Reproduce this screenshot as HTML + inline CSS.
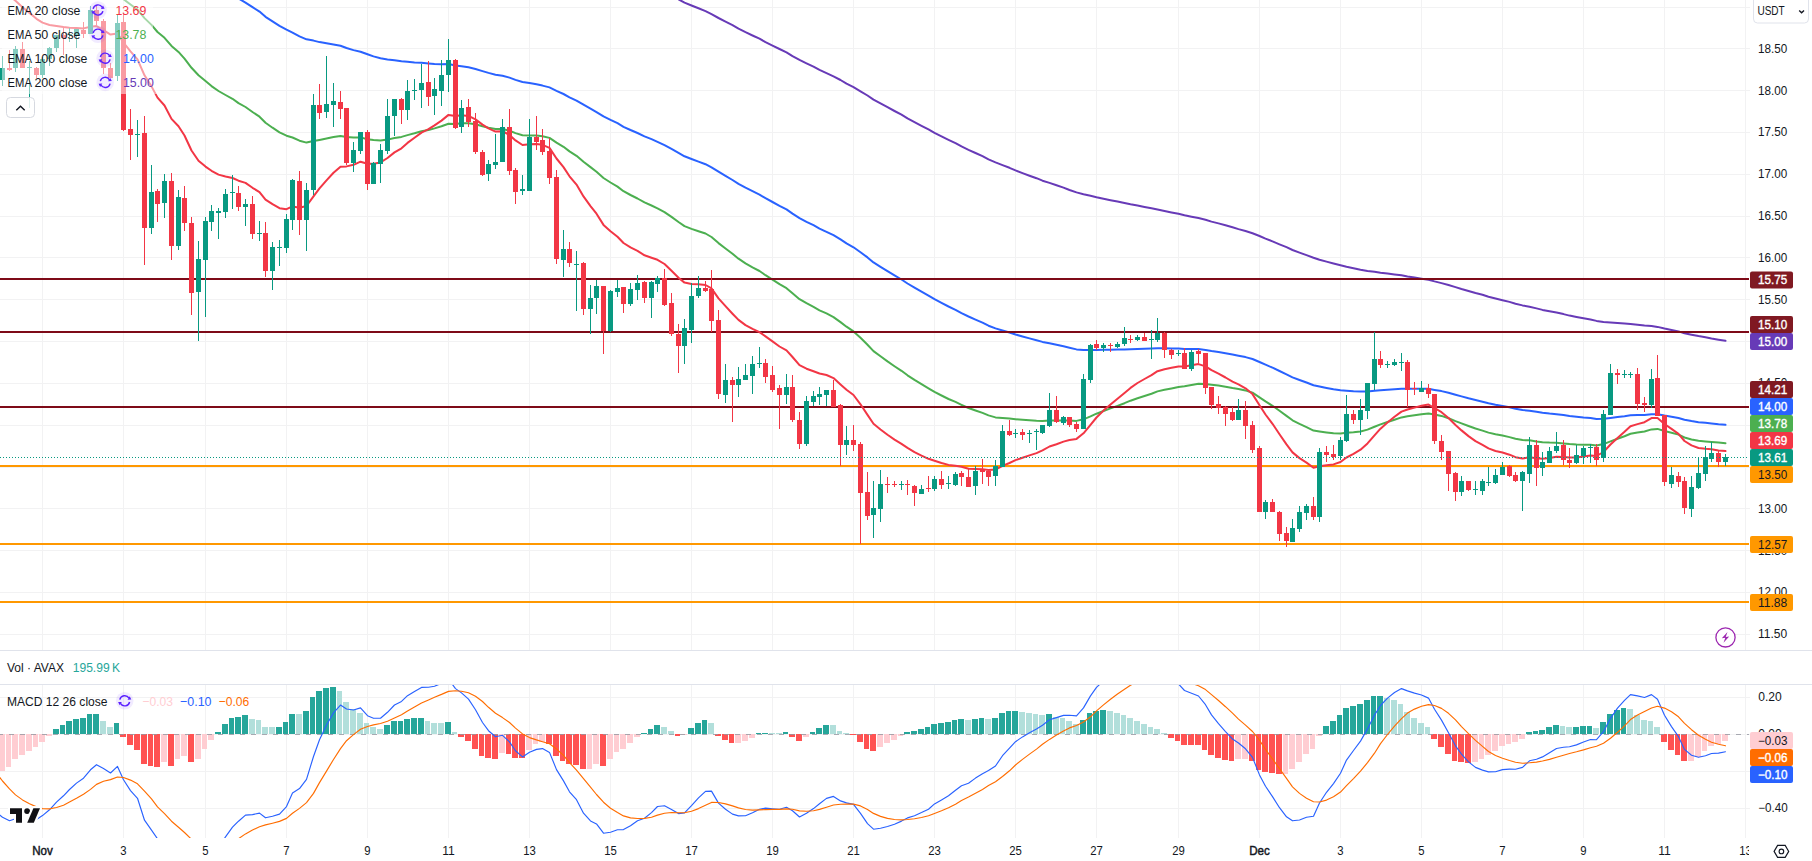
<!DOCTYPE html><html><head><meta charset="utf-8"><title>AVAX/USDT chart</title><style>html,body{margin:0;padding:0;background:#fff;overflow:hidden}svg{display:block}</style></head><body><svg width="1812" height="861" viewBox="0 0 1812 861" font-family='"Liberation Sans", Arial, sans-serif'><defs><clipPath id="cm"><rect x="0" y="0" width="1749" height="650"/></clipPath><clipPath id="cd"><rect x="0" y="685" width="1749" height="153"/></clipPath><clipPath id="ct"><rect x="0" y="838" width="1749" height="23"/></clipPath><clipPath id="ca"><rect x="1749" y="0" width="63" height="650"/></clipPath><clipPath id="cb"><rect x="1749" y="685" width="63" height="153"/></clipPath></defs><rect width="1812" height="861" fill="#fff"/><path d="M42 -1v651M42 684v153M123 -1v651M123 684v153M205 -1v651M205 684v153M286 -1v651M286 684v153M367 -1v651M367 684v153M448 -1v651M448 684v153M529 -1v651M529 684v153M610 -1v651M610 684v153M691 -1v651M691 684v153M772 -1v651M772 684v153M853 -1v651M853 684v153M934 -1v651M934 684v153M1015 -1v651M1015 684v153M1096 -1v651M1096 684v153M1178 -1v651M1178 684v153M1259 -1v651M1259 684v153M1340 -1v651M1340 684v153M1421 -1v651M1421 684v153M1502 -1v651M1502 684v153M1583 -1v651M1583 684v153M1664 -1v651M1664 684v153M1745 -1v651M1745 684v153M-1 7h1750M-1 48h1750M-1 90h1750M-1 132h1750M-1 174h1750M-1 216h1750M-1 257h1750M-1 299h1750M-1 341h1750M-1 383h1750M-1 425h1750M-1 467h1750M-1 508h1750M-1 550h1750M-1 592h1750M-1 634h1750M-1 697h1750M-1 734h1750M-1 771h1750M-1 808h1750" transform="translate(0.5,0.5)" stroke="#f2f2f3" stroke-width="1" fill="none" shape-rendering="crispEdges"/><polyline points="-4.5,-61.6 2.5,-56.5 9.5,-51.6 15.5,-47.6 22.5,-43.1 29.5,-38.8 36.5,-34.3 42.5,-30.7 49.5,-27.6 56.5,-25.1 63.5,-22.7 69.5,-20.5 76.5,-18.5 83.5,-16.5 90.5,-15.4 96.5,-14.0 103.5,-10.8 110.5,-7.3 117.5,-6.1 123.5,-0.8 130.5,4.5 137.5,9.6 144.5,18.1 151.5,24.9 157.5,32.0 164.5,37.8 171.5,45.9 178.5,51.9 184.5,58.6 191.5,67.8 198.5,75.3 205.5,81.0 211.5,86.1 218.5,91.0 225.5,95.0 232.5,98.8 238.5,103.1 245.5,107.0 252.5,112.0 259.5,116.7 265.5,122.8 272.5,127.7 279.5,132.3 286.5,135.7 292.5,137.5 299.5,140.7 306.5,142.6 313.5,141.1 319.5,140.0 326.5,138.6 333.5,137.1 340.5,136.0 346.5,137.1 353.5,137.6 360.5,137.4 367.5,139.2 373.5,140.1 380.5,140.5 387.5,139.6 394.5,138.0 401.5,136.9 407.5,135.1 414.5,133.3 421.5,131.3 428.5,130.0 434.5,128.4 441.5,126.3 448.5,123.7 455.5,123.9 461.5,123.2 468.5,123.2 475.5,124.3 482.5,126.3 488.5,127.8 495.5,129.1 502.5,129.0 509.5,130.7 515.5,133.1 522.5,135.3 529.5,135.4 536.5,135.6 542.5,136.2 549.5,137.9 556.5,142.6 563.5,146.8 569.5,151.4 576.5,155.8 583.5,161.8 590.5,167.1 596.5,171.8 603.5,178.0 610.5,182.5 617.5,186.6 623.5,191.2 630.5,195.0 637.5,198.5 644.5,202.4 651.5,205.5 657.5,208.4 664.5,212.1 671.5,216.9 678.5,222.0 684.5,226.1 691.5,228.9 698.5,231.2 705.5,233.5 711.5,237.0 718.5,243.1 725.5,248.5 732.5,253.8 738.5,258.7 745.5,263.3 752.5,267.3 759.5,271.0 765.5,275.2 772.5,279.6 779.5,284.2 786.5,288.2 792.5,293.3 799.5,299.2 806.5,303.2 813.5,306.9 819.5,310.3 826.5,313.4 833.5,317.1 840.5,322.1 846.5,326.7 853.5,331.4 860.5,337.7 867.5,344.7 873.5,351.1 880.5,356.3 887.5,361.4 894.5,366.2 901.5,370.8 907.5,375.3 914.5,379.9 921.5,384.2 928.5,388.3 934.5,391.9 941.5,395.5 948.5,399.0 955.5,401.9 961.5,404.8 968.5,408.0 975.5,410.5 982.5,412.9 988.5,415.4 995.5,417.4 1002.5,418.0 1009.5,418.6 1015.5,419.2 1022.5,419.8 1029.5,420.3 1036.5,420.7 1042.5,420.9 1049.5,420.5 1056.5,420.5 1063.5,420.4 1069.5,420.6 1076.5,420.9 1083.5,419.3 1090.5,416.4 1096.5,413.7 1103.5,411.0 1110.5,408.4 1117.5,405.9 1124.5,403.2 1130.5,400.7 1137.5,398.2 1144.5,396.0 1151.5,393.8 1157.5,391.4 1164.5,389.8 1171.5,388.4 1178.5,387.0 1184.5,386.3 1191.5,385.0 1198.5,383.7 1205.5,383.9 1211.5,384.7 1218.5,385.6 1225.5,386.7 1232.5,388.0 1238.5,388.9 1245.5,390.4 1252.5,392.7 1259.5,397.4 1265.5,401.4 1272.5,405.8 1279.5,410.8 1286.5,415.9 1292.5,420.3 1299.5,423.9 1306.5,427.1 1313.5,430.6 1319.5,431.5 1326.5,432.4 1333.5,433.3 1340.5,433.6 1346.5,432.8 1353.5,432.3 1360.5,431.5 1367.5,429.6 1374.5,426.8 1380.5,424.4 1387.5,422.0 1394.5,419.7 1401.5,417.4 1407.5,416.3 1414.5,415.3 1421.5,414.2 1428.5,413.4 1434.5,414.5 1441.5,415.9 1448.5,418.2 1455.5,421.1 1461.5,423.4 1468.5,426.0 1475.5,428.5 1482.5,430.6 1488.5,432.6 1495.5,434.3 1502.5,435.5 1509.5,437.1 1515.5,438.8 1522.5,440.1 1529.5,440.3 1536.5,441.4 1542.5,442.2 1549.5,442.6 1556.5,442.7 1563.5,443.4 1569.5,444.1 1576.5,444.6 1583.5,444.7 1590.5,444.8 1596.5,445.4 1603.5,444.1 1610.5,441.4 1617.5,438.8 1624.5,436.2 1630.5,433.8 1637.5,432.6 1644.5,431.5 1651.5,429.4 1657.5,428.9 1664.5,431.0 1671.5,432.7 1678.5,434.6 1684.5,437.5 1691.5,439.5 1698.5,440.8 1705.5,441.4 1711.5,441.9 1718.5,442.6 1725.5,443.2" fill="none" stroke="#4caf50" stroke-width="2" stroke-linejoin="round" stroke-linecap="round" clip-path="url(#cm)"/><polyline points="-4.5,-150.9 2.5,-146.6 9.5,-142.3 15.5,-138.5 22.5,-134.4 29.5,-130.4 36.5,-126.4 42.5,-122.7 49.5,-119.3 56.5,-116.3 63.5,-113.2 69.5,-110.3 76.5,-107.6 83.5,-104.8 90.5,-102.5 96.5,-100.0 103.5,-96.7 110.5,-93.3 117.5,-91.0 123.5,-86.6 130.5,-82.2 137.5,-77.9 144.5,-71.9 151.5,-66.7 157.5,-61.3 164.5,-56.5 171.5,-50.5 178.5,-45.6 184.5,-40.3 191.5,-33.7 198.5,-27.9 205.5,-23.0 211.5,-18.3 218.5,-13.8 225.5,-9.7 232.5,-5.7 238.5,-1.5 245.5,2.6 252.5,7.2 259.5,11.6 265.5,16.8 272.5,21.3 279.5,25.8 286.5,29.6 292.5,32.6 299.5,36.3 306.5,39.3 313.5,40.6 319.5,42.1 326.5,43.3 333.5,44.4 340.5,45.7 346.5,48.0 353.5,50.1 360.5,51.7 367.5,54.3 373.5,56.4 380.5,58.3 387.5,59.4 394.5,60.2 401.5,61.2 407.5,61.8 414.5,62.4 421.5,62.8 428.5,63.4 434.5,64.0 441.5,64.2 448.5,64.1 455.5,65.4 461.5,66.2 468.5,67.3 475.5,69.0 482.5,71.1 488.5,72.9 495.5,74.7 502.5,75.7 509.5,77.6 515.5,79.9 522.5,82.0 529.5,83.1 536.5,84.3 542.5,85.6 549.5,87.4 556.5,90.8 563.5,94.0 569.5,97.3 576.5,100.6 583.5,104.7 590.5,108.6 596.5,112.1 603.5,116.4 610.5,119.9 617.5,123.2 623.5,126.8 630.5,130.0 637.5,133.0 644.5,136.3 651.5,139.2 657.5,141.9 664.5,145.2 671.5,148.9 678.5,152.8 684.5,156.3 691.5,159.0 698.5,161.6 705.5,164.2 711.5,167.3 718.5,171.7 725.5,175.9 732.5,180.0 738.5,183.9 745.5,187.7 752.5,191.2 759.5,194.6 765.5,198.2 772.5,202.0 779.5,205.8 786.5,209.4 792.5,213.6 799.5,218.1 806.5,221.8 813.5,225.2 819.5,228.6 826.5,231.8 833.5,235.2 840.5,239.4 846.5,243.4 853.5,247.3 860.5,252.2 867.5,257.4 873.5,262.4 880.5,266.8 887.5,271.1 894.5,275.3 901.5,279.5 907.5,283.5 914.5,287.7 921.5,291.7 928.5,295.6 934.5,299.2 941.5,302.9 948.5,306.5 955.5,309.8 961.5,313.1 968.5,316.5 975.5,319.6 982.5,322.6 988.5,325.7 995.5,328.4 1002.5,330.5 1009.5,332.5 1015.5,334.5 1022.5,336.5 1029.5,338.4 1036.5,340.3 1042.5,341.9 1049.5,343.3 1056.5,344.8 1063.5,346.3 1069.5,347.8 1076.5,349.4 1083.5,350.0 1090.5,349.9 1096.5,349.9 1103.5,349.8 1110.5,349.7 1117.5,349.6 1124.5,349.4 1130.5,349.2 1137.5,348.9 1144.5,348.8 1151.5,348.6 1157.5,348.3 1164.5,348.3 1171.5,348.4 1178.5,348.5 1184.5,348.9 1191.5,349.0 1198.5,349.1 1205.5,349.9 1211.5,351.0 1218.5,352.1 1225.5,353.3 1232.5,354.6 1238.5,355.7 1245.5,357.1 1252.5,359.0 1259.5,362.0 1265.5,364.7 1272.5,367.7 1279.5,371.0 1286.5,374.3 1292.5,377.4 1299.5,380.0 1306.5,382.5 1313.5,385.2 1319.5,386.5 1326.5,387.9 1333.5,389.2 1340.5,390.2 1346.5,390.7 1353.5,391.3 1360.5,391.6 1367.5,391.5 1374.5,390.8 1380.5,390.3 1387.5,389.8 1394.5,389.3 1401.5,388.7 1407.5,388.7 1414.5,388.8 1421.5,388.7 1428.5,388.8 1434.5,389.9 1441.5,391.1 1448.5,392.7 1455.5,394.7 1461.5,396.4 1468.5,398.3 1475.5,400.0 1482.5,401.7 1488.5,403.2 1495.5,404.7 1502.5,405.9 1509.5,407.3 1515.5,408.7 1522.5,410.0 1529.5,410.7 1536.5,411.8 1542.5,412.8 1549.5,413.6 1556.5,414.2 1563.5,415.1 1569.5,416.1 1576.5,416.8 1583.5,417.5 1590.5,418.0 1596.5,418.9 1603.5,418.8 1610.5,417.9 1617.5,417.0 1624.5,416.2 1630.5,415.3 1637.5,415.1 1644.5,414.9 1651.5,414.2 1657.5,414.2 1664.5,415.6 1671.5,416.7 1678.5,418.0 1684.5,419.8 1691.5,421.1 1698.5,422.2 1705.5,422.8 1711.5,423.4 1718.5,424.2 1725.5,424.8" fill="none" stroke="#2962ff" stroke-width="2" stroke-linejoin="round" stroke-linecap="round" clip-path="url(#cm)"/><polyline points="-4.5,-322.9 2.5,-319.0 9.5,-315.1 15.5,-311.5 22.5,-307.7 29.5,-304.0 36.5,-300.2 42.5,-296.7 49.5,-293.2 56.5,-290.0 63.5,-286.7 69.5,-283.5 76.5,-280.4 83.5,-277.3 90.5,-274.4 96.5,-271.5 103.5,-268.1 110.5,-264.7 117.5,-261.8 123.5,-257.9 130.5,-254.0 137.5,-250.2 144.5,-245.4 151.5,-241.1 157.5,-236.6 164.5,-232.5 171.5,-227.7 178.5,-223.5 184.5,-219.0 191.5,-214.0 198.5,-209.2 205.5,-205.0 211.5,-200.8 218.5,-196.7 225.5,-192.8 232.5,-189.0 238.5,-185.1 245.5,-181.2 252.5,-177.1 259.5,-173.0 265.5,-168.6 272.5,-164.4 279.5,-160.3 286.5,-156.6 292.5,-153.2 299.5,-149.5 306.5,-146.1 313.5,-143.6 319.5,-141.1 326.5,-138.6 333.5,-136.3 340.5,-133.8 346.5,-130.9 353.5,-128.1 360.5,-125.5 367.5,-122.4 373.5,-119.6 380.5,-116.9 387.5,-114.6 394.5,-112.4 401.5,-110.2 407.5,-108.2 414.5,-106.3 421.5,-104.4 428.5,-102.4 434.5,-100.5 441.5,-98.7 448.5,-97.1 455.5,-94.9 461.5,-92.9 468.5,-90.7 475.5,-88.3 482.5,-85.7 488.5,-83.2 495.5,-80.8 502.5,-78.7 509.5,-76.2 515.5,-73.6 522.5,-70.9 529.5,-68.9 536.5,-66.8 542.5,-64.6 549.5,-62.2 556.5,-59.0 563.5,-55.9 569.5,-52.8 576.5,-49.6 583.5,-46.0 590.5,-42.6 596.5,-39.3 603.5,-35.7 610.5,-32.4 617.5,-29.2 623.5,-25.9 630.5,-22.8 637.5,-19.7 644.5,-16.6 651.5,-13.6 657.5,-10.7 664.5,-7.6 671.5,-4.2 678.5,-0.7 684.5,2.6 691.5,5.5 698.5,8.3 705.5,11.1 711.5,14.2 718.5,18.0 725.5,21.6 732.5,25.2 738.5,28.7 745.5,32.2 752.5,35.5 759.5,38.7 765.5,42.1 772.5,45.6 779.5,49.0 786.5,52.4 792.5,56.1 799.5,59.9 806.5,63.3 813.5,66.6 819.5,69.9 826.5,73.1 833.5,76.4 840.5,80.0 846.5,83.6 853.5,87.2 860.5,91.3 867.5,95.5 873.5,99.6 880.5,103.4 887.5,107.2 894.5,111.0 901.5,114.7 907.5,118.4 914.5,122.1 921.5,125.8 928.5,129.4 934.5,132.9 941.5,136.4 948.5,139.8 955.5,143.1 961.5,146.4 968.5,149.8 975.5,153.0 982.5,156.2 988.5,159.4 995.5,162.4 1002.5,165.1 1009.5,167.8 1015.5,170.4 1022.5,173.1 1029.5,175.7 1036.5,178.2 1042.5,180.7 1049.5,182.9 1056.5,185.3 1063.5,187.6 1069.5,190.0 1076.5,192.4 1083.5,194.2 1090.5,195.7 1096.5,197.2 1103.5,198.7 1110.5,200.2 1117.5,201.6 1124.5,203.0 1130.5,204.3 1137.5,205.6 1144.5,207.0 1151.5,208.3 1157.5,209.5 1164.5,210.9 1171.5,212.4 1178.5,213.8 1184.5,215.3 1191.5,216.7 1198.5,218.0 1205.5,219.7 1211.5,221.6 1218.5,223.4 1225.5,225.3 1232.5,227.3 1238.5,229.1 1245.5,231.0 1252.5,233.2 1259.5,236.0 1265.5,238.6 1272.5,241.4 1279.5,244.3 1286.5,247.2 1292.5,250.0 1299.5,252.6 1306.5,255.1 1313.5,257.7 1319.5,259.7 1326.5,261.6 1333.5,263.5 1340.5,265.3 1346.5,266.8 1353.5,268.3 1360.5,269.7 1367.5,270.9 1374.5,271.7 1380.5,272.7 1387.5,273.6 1394.5,274.4 1401.5,275.3 1407.5,276.5 1414.5,277.6 1421.5,278.7 1428.5,279.8 1434.5,281.4 1441.5,283.1 1448.5,285.0 1455.5,287.1 1461.5,289.0 1468.5,291.0 1475.5,293.0 1482.5,294.8 1488.5,296.7 1495.5,298.5 1502.5,300.2 1509.5,301.9 1515.5,303.7 1522.5,305.4 1529.5,306.8 1536.5,308.4 1542.5,309.9 1549.5,311.3 1556.5,312.6 1563.5,314.1 1569.5,315.6 1576.5,317.0 1583.5,318.3 1590.5,319.5 1596.5,320.9 1603.5,321.9 1610.5,322.4 1617.5,322.9 1624.5,323.4 1630.5,323.9 1637.5,324.7 1644.5,325.5 1651.5,326.0 1657.5,326.9 1664.5,328.5 1671.5,329.9 1678.5,331.4 1684.5,333.2 1691.5,334.7 1698.5,336.1 1705.5,337.3 1711.5,338.5 1718.5,339.7 1725.5,340.8" fill="none" stroke="#673ab7" stroke-width="2" stroke-linejoin="round" stroke-linecap="round" clip-path="url(#cm)"/><rect x="0" y="278" width="1749" height="2" fill="#7e0a18" shape-rendering="crispEdges"/><rect x="0" y="331" width="1749" height="2" fill="#7e0a18" shape-rendering="crispEdges"/><rect x="0" y="406" width="1749" height="2" fill="#7e0a18" shape-rendering="crispEdges"/><rect x="0" y="465" width="1749" height="2" fill="#ff9800" shape-rendering="crispEdges"/><rect x="0" y="543" width="1749" height="2" fill="#ff9800" shape-rendering="crispEdges"/><rect x="0" y="601" width="1749" height="2" fill="#ff9800" shape-rendering="crispEdges"/><polyline points="-4.5,-20.5 2.5,-12.1 9.5,-4.3 15.5,0.8 22.5,7.2 29.5,12.9 36.5,18.8 42.5,22.6 49.5,25.0 56.5,25.9 63.5,27.0 69.5,27.7 76.5,27.9 83.5,28.4 90.5,26.7 96.5,26.1 103.5,30.1 110.5,34.6 117.5,33.5 123.5,42.6 130.5,51.4 137.5,59.3 144.5,75.3 151.5,86.4 157.5,97.6 164.5,105.5 171.5,118.9 178.5,126.3 184.5,135.5 191.5,150.5 198.5,160.8 205.5,166.6 211.5,170.8 218.5,174.6 225.5,176.5 232.5,178.0 238.5,180.7 245.5,182.9 252.5,187.8 259.5,192.1 265.5,199.6 272.5,204.1 279.5,208.2 286.5,209.2 292.5,206.4 299.5,207.7 306.5,206.0 313.5,196.4 319.5,188.4 326.5,180.4 333.5,172.8 340.5,166.7 346.5,166.4 353.5,164.8 360.5,161.7 367.5,163.8 373.5,163.7 380.5,162.4 387.5,158.0 394.5,152.4 401.5,148.3 407.5,142.9 414.5,137.8 421.5,132.6 428.5,129.2 434.5,125.4 441.5,120.6 448.5,114.9 455.5,116.1 461.5,115.3 468.5,115.9 475.5,119.4 482.5,124.6 488.5,128.4 495.5,131.6 502.5,131.2 509.5,135.0 515.5,140.4 522.5,145.0 529.5,144.3 536.5,144.1 542.5,144.8 549.5,147.9 556.5,158.5 563.5,167.1 569.5,176.3 576.5,184.6 583.5,196.4 590.5,206.1 596.5,213.7 603.5,224.9 610.5,231.2 617.5,236.7 623.5,243.0 630.5,247.4 637.5,250.9 644.5,255.3 651.5,257.8 657.5,259.8 664.5,264.0 671.5,270.7 678.5,277.8 684.5,282.6 691.5,283.9 698.5,284.3 705.5,285.0 711.5,288.4 718.5,298.4 725.5,306.2 732.5,313.7 738.5,319.9 745.5,325.1 752.5,328.9 759.5,332.1 765.5,336.4 772.5,341.4 779.5,346.5 786.5,350.4 792.5,357.0 799.5,365.2 806.5,368.7 813.5,371.3 819.5,373.5 826.5,375.0 833.5,378.1 840.5,384.4 846.5,389.7 853.5,395.0 860.5,404.3 867.5,414.9 873.5,423.8 880.5,429.5 887.5,434.8 894.5,439.6 901.5,443.9 907.5,447.8 914.5,452.1 921.5,455.6 928.5,458.8 934.5,460.7 941.5,463.0 948.5,464.9 955.5,465.8 961.5,466.8 968.5,468.7 975.5,469.0 982.5,469.2 988.5,469.9 995.5,469.6 1002.5,465.9 1009.5,463.0 1015.5,460.1 1022.5,457.8 1029.5,455.4 1036.5,453.1 1042.5,450.4 1049.5,446.5 1056.5,444.2 1063.5,441.6 1069.5,440.0 1076.5,438.9 1083.5,433.3 1090.5,424.9 1096.5,417.5 1103.5,410.6 1110.5,404.5 1117.5,398.7 1124.5,392.9 1130.5,387.9 1137.5,383.0 1144.5,379.0 1151.5,375.2 1157.5,371.2 1164.5,369.2 1171.5,367.8 1178.5,366.4 1184.5,366.6 1191.5,365.2 1198.5,364.1 1205.5,366.4 1211.5,370.1 1218.5,373.7 1225.5,377.5 1232.5,381.6 1238.5,384.3 1245.5,388.3 1252.5,394.1 1259.5,405.3 1265.5,414.5 1272.5,423.8 1279.5,434.3 1286.5,444.4 1292.5,452.4 1299.5,458.1 1306.5,462.6 1313.5,467.8 1319.5,466.3 1326.5,465.2 1333.5,464.4 1340.5,462.0 1346.5,457.5 1353.5,453.9 1360.5,449.7 1367.5,443.4 1374.5,435.4 1380.5,428.7 1387.5,422.5 1394.5,416.8 1401.5,411.6 1407.5,409.5 1414.5,407.6 1421.5,405.7 1428.5,404.6 1434.5,408.0 1441.5,412.2 1448.5,418.0 1455.5,425.0 1461.5,430.4 1468.5,436.1 1475.5,441.1 1482.5,444.9 1488.5,448.4 1495.5,451.0 1502.5,452.5 1509.5,454.7 1515.5,457.2 1522.5,458.6 1529.5,457.3 1536.5,458.3 1542.5,458.7 1549.5,458.0 1556.5,456.8 1563.5,457.1 1569.5,457.6 1576.5,457.4 1583.5,456.5 1590.5,455.6 1596.5,456.0 1603.5,452.0 1610.5,444.5 1617.5,437.9 1624.5,431.8 1630.5,426.2 1637.5,424.1 1644.5,422.2 1651.5,418.1 1657.5,417.9 1664.5,424.0 1671.5,428.9 1678.5,433.9 1684.5,441.0 1691.5,445.4 1698.5,448.0 1705.5,448.8 1711.5,449.2 1718.5,450.4 1725.5,451.1" fill="none" stroke="#f23645" stroke-width="2" stroke-linejoin="round" stroke-linecap="round" clip-path="url(#cm)"/><g clip-path="url(#cm)" shape-rendering="crispEdges"><path d="M0 68h5v12h-5zM2 56h1v30h-1zM13 49h5v19h-5zM15 46h1v26h-1zM27 67h5v1h-5zM29 61h1v47h-1zM40 59h5v16h-5zM42 57h1v21h-1zM47 48h5v11h-5zM49 47h1v19h-1zM54 35h5v13h-5zM56 35h1v17h-1zM67 34h5v1h-5zM69 28h1v14h-1zM74 29h5v6h-5zM76 29h1v19h-1zM88 10h5v24h-5zM90 6h1v28h-1zM115 23h5v53h-5zM117 14h1v67h-1zM135 134h5v1h-5zM137 120h1v37h-1zM149 192h5v36h-5zM151 165h1v69h-1zM162 181h5v22h-5zM164 174h1v44h-1zM176 197h5v49h-5zM178 190h1v60h-1zM196 259h5v33h-5zM198 241h1v100h-1zM203 221h5v39h-5zM205 217h1v100h-1zM209 211h5v11h-5zM211 205h1v26h-1zM216 211h5v2h-5zM218 208h1v31h-1zM223 194h5v18h-5zM225 189h1v29h-1zM230 192h5v1h-5zM232 175h1v34h-1zM243 204h5v3h-5zM245 199h1v27h-1zM257 233h5v1h-5zM259 221h1v20h-1zM270 247h5v24h-5zM272 242h1v48h-1zM277 247h5v1h-5zM279 240h1v26h-1zM284 219h5v29h-5zM286 214h1v39h-1zM290 180h5v40h-5zM292 179h1v51h-1zM304 190h5v30h-5zM306 183h1v68h-1zM311 105h5v85h-5zM313 94h1v101h-1zM324 104h5v8h-5zM326 56h1v62h-1zM331 101h5v4h-5zM333 83h1v44h-1zM351 150h5v13h-5zM353 142h1v30h-1zM358 132h5v19h-5zM360 132h1v22h-1zM371 163h5v21h-5zM373 162h1v22h-1zM378 150h5v14h-5zM380 144h1v39h-1zM385 116h5v35h-5zM387 99h1v55h-1zM392 99h5v17h-5zM394 99h1v37h-1zM405 91h5v19h-5zM407 80h1v40h-1zM412 90h5v1h-5zM414 79h1v21h-1zM419 83h5v7h-5zM421 64h1v44h-1zM432 89h5v7h-5zM434 78h1v37h-1zM439 75h5v16h-5zM441 60h1v46h-1zM446 60h5v15h-5zM448 39h1v53h-1zM459 108h5v19h-5zM461 100h1v33h-1zM486 164h5v10h-5zM488 160h1v21h-1zM493 162h5v3h-5zM495 134h1v35h-1zM500 127h5v35h-5zM502 119h1v43h-1zM520 189h5v2h-5zM522 175h1v20h-1zM527 137h5v54h-5zM529 119h1v72h-1zM561 249h5v11h-5zM563 230h1v47h-1zM574 264h5v1h-5zM576 251h1v60h-1zM588 298h5v11h-5zM590 285h1v49h-1zM594 286h5v12h-5zM596 280h1v34h-1zM608 291h5v40h-5zM610 290h1v42h-1zM615 288h5v4h-5zM617 280h1v17h-1zM628 289h5v15h-5zM630 283h1v23h-1zM635 283h5v7h-5zM637 275h1v25h-1zM649 282h5v16h-5zM651 281h1v37h-1zM655 278h5v6h-5zM657 276h1v16h-1zM682 328h5v18h-5zM684 319h1v45h-1zM689 296h5v34h-5zM691 283h1v60h-1zM696 288h5v8h-5zM698 276h1v22h-1zM723 380h5v15h-5zM725 364h1v39h-1zM736 379h5v6h-5zM738 367h1v30h-1zM743 375h5v5h-5zM745 364h1v16h-1zM750 364h5v12h-5zM752 356h1v38h-1zM757 363h5v1h-5zM759 347h1v21h-1zM784 387h5v8h-5zM786 374h1v30h-1zM804 401h5v43h-5zM806 396h1v50h-1zM811 396h5v6h-5zM813 391h1v15h-1zM817 394h5v3h-5zM819 387h1v18h-1zM824 390h5v5h-5zM826 390h1v16h-1zM844 440h5v5h-5zM846 426h1v29h-1zM871 508h5v7h-5zM873 481h1v57h-1zM878 484h5v25h-5zM880 470h1v52h-1zM899 484h5v1h-5zM901 481h1v9h-1zM919 489h5v5h-5zM921 485h1v9h-1zM932 479h5v10h-5zM934 476h1v15h-1zM946 483h5v1h-5zM948 476h1v13h-1zM953 474h5v11h-5zM955 472h1v14h-1zM973 471h5v15h-5zM975 466h1v29h-1zM993 466h5v10h-5zM995 460h1v26h-1zM1000 431h5v36h-5zM1002 425h1v42h-1zM1013 433h5v1h-5zM1015 429h1v9h-1zM1027 433h5v1h-5zM1029 430h1v13h-1zM1034 431h5v1h-5zM1036 429h1v21h-1zM1040 425h5v8h-5zM1042 425h1v9h-1zM1047 410h5v16h-5zM1049 393h1v34h-1zM1061 417h5v6h-5zM1063 416h1v9h-1zM1081 379h5v50h-5zM1083 374h1v55h-1zM1088 345h5v35h-5zM1090 344h1v39h-1zM1101 345h5v3h-5zM1103 343h1v9h-1zM1115 344h5v3h-5zM1117 342h1v6h-1zM1122 338h5v6h-5zM1124 327h1v19h-1zM1135 337h5v3h-5zM1137 335h1v6h-1zM1149 339h5v1h-5zM1151 330h1v29h-1zM1155 333h5v7h-5zM1157 318h1v24h-1zM1176 353h5v1h-5zM1178 350h1v6h-1zM1189 352h5v17h-5zM1191 350h1v21h-1zM1236 410h5v10h-5zM1238 399h1v21h-1zM1263 502h5v10h-5zM1265 500h1v19h-1zM1290 528h5v14h-5zM1292 519h1v23h-1zM1297 512h5v17h-5zM1299 506h1v26h-1zM1304 506h5v7h-5zM1306 504h1v16h-1zM1317 452h5v65h-5zM1319 448h1v74h-1zM1338 440h5v16h-5zM1340 437h1v23h-1zM1344 414h5v27h-5zM1346 395h1v47h-1zM1358 410h5v10h-5zM1360 399h1v36h-1zM1365 383h5v28h-5zM1367 383h1v36h-1zM1372 359h5v25h-5zM1374 332h1v58h-1zM1385 364h5v1h-5zM1387 361h1v7h-1zM1392 362h5v3h-5zM1394 359h1v7h-1zM1399 362h5v1h-5zM1401 353h1v18h-1zM1419 388h5v4h-5zM1421 381h1v11h-1zM1459 481h5v11h-5zM1461 476h1v20h-1zM1473 489h5v1h-5zM1475 481h1v14h-1zM1480 481h5v10h-5zM1482 479h1v16h-1zM1486 482h5v1h-5zM1488 467h1v19h-1zM1493 475h5v8h-5zM1495 469h1v15h-1zM1500 467h5v8h-5zM1502 462h1v13h-1zM1520 472h5v9h-5zM1522 471h1v40h-1zM1527 445h5v29h-5zM1529 437h1v46h-1zM1540 462h5v6h-5zM1542 452h1v24h-1zM1547 451h5v12h-5zM1549 447h1v16h-1zM1554 446h5v5h-5zM1556 432h1v21h-1zM1574 455h5v8h-5zM1576 445h1v19h-1zM1581 448h5v8h-5zM1583 446h1v18h-1zM1588 447h5v1h-5zM1590 444h1v19h-1zM1601 414h5v44h-5zM1603 410h1v52h-1zM1608 373h5v42h-5zM1610 364h1v51h-1zM1622 374h5v1h-5zM1624 370h1v8h-1zM1628 374h5v1h-5zM1630 372h1v6h-1zM1649 379h5v26h-5zM1651 369h1v39h-1zM1669 475h5v9h-5zM1671 467h1v21h-1zM1689 487h5v22h-5zM1691 476h1v41h-1zM1696 473h5v15h-5zM1698 457h1v32h-1zM1703 457h5v17h-5zM1705 446h1v35h-1zM1709 453h5v6h-5zM1711 442h1v20h-1zM1723 457h5v5h-5zM1725 454h1v12h-1z" fill="#089981"/><path d="M7 68h5v2h-5zM9 50h1v21h-1zM20 49h5v19h-5zM22 42h1v26h-1zM34 68h5v7h-5zM36 67h1v11h-1zM61 35h5v3h-5zM63 28h1v27h-1zM81 30h5v4h-5zM83 22h1v16h-1zM94 10h5v11h-5zM96 6h1v19h-1zM101 21h5v47h-5zM103 19h1v55h-1zM108 68h5v10h-5zM110 63h1v15h-1zM121 22h5v108h-5zM123 14h1v117h-1zM128 129h5v6h-5zM130 109h1v51h-1zM142 133h5v95h-5zM144 116h1v149h-1zM155 191h5v13h-5zM157 189h1v33h-1zM169 181h5v65h-5zM171 173h1v87h-1zM182 198h5v25h-5zM184 186h1v45h-1zM189 223h5v70h-5zM191 217h1v98h-1zM236 193h5v14h-5zM238 186h1v25h-1zM250 204h5v30h-5zM252 196h1v43h-1zM263 233h5v38h-5zM265 222h1v55h-1zM297 181h5v39h-5zM299 171h1v64h-1zM317 105h5v8h-5zM319 84h1v35h-1zM338 102h5v7h-5zM340 91h1v28h-1zM344 108h5v55h-5zM346 108h1v57h-1zM365 132h5v52h-5zM367 130h1v60h-1zM399 99h5v11h-5zM401 98h1v26h-1zM426 82h5v15h-5zM428 61h1v45h-1zM453 60h5v68h-5zM455 59h1v70h-1zM466 107h5v15h-5zM468 99h1v28h-1zM473 121h5v31h-5zM475 113h1v41h-1zM480 152h5v23h-5zM482 150h1v26h-1zM507 127h5v44h-5zM509 109h1v66h-1zM513 170h5v22h-5zM515 168h1v36h-1zM534 137h5v5h-5zM536 116h1v34h-1zM540 140h5v12h-5zM542 129h1v26h-1zM547 151h5v27h-5zM549 138h1v46h-1zM554 177h5v82h-5zM556 170h1v94h-1zM567 249h5v14h-5zM569 242h1v25h-1zM581 263h5v46h-5zM583 262h1v53h-1zM601 286h5v45h-5zM603 286h1v68h-1zM621 287h5v17h-5zM623 287h1v26h-1zM642 282h5v16h-5zM644 281h1v22h-1zM662 278h5v27h-5zM664 269h1v37h-1zM669 303h5v31h-5zM671 293h1v43h-1zM676 334h5v12h-5zM678 324h1v49h-1zM703 288h5v3h-5zM705 281h1v11h-1zM709 289h5v32h-5zM711 270h1v62h-1zM716 320h5v74h-5zM718 310h1v89h-1zM730 380h5v5h-5zM732 377h1v45h-1zM763 363h5v14h-5zM765 359h1v24h-1zM770 375h5v15h-5zM772 366h1v26h-1zM777 388h5v7h-5zM779 385h1v44h-1zM790 387h5v33h-5zM792 375h1v47h-1zM797 420h5v24h-5zM799 412h1v37h-1zM831 390h5v17h-5zM833 380h1v27h-1zM838 405h5v40h-5zM840 404h1v62h-1zM851 440h5v5h-5zM853 425h1v26h-1zM858 444h5v49h-5zM860 442h1v102h-1zM865 492h5v24h-5zM867 472h1v48h-1zM885 484h5v1h-5zM887 477h1v16h-1zM892 484h5v1h-5zM894 481h1v6h-1zM905 484h5v1h-5zM907 480h1v15h-1zM912 486h5v7h-5zM914 485h1v21h-1zM926 488h5v1h-5zM928 476h1v16h-1zM939 479h5v6h-5zM941 471h1v18h-1zM959 473h5v4h-5zM961 471h1v15h-1zM966 477h5v10h-5zM968 468h1v19h-1zM980 470h5v2h-5zM982 459h1v25h-1zM986 471h5v6h-5zM988 470h1v16h-1zM1007 431h5v4h-5zM1009 420h1v16h-1zM1020 432h5v3h-5zM1022 429h1v11h-1zM1054 410h5v12h-5zM1056 396h1v27h-1zM1067 417h5v8h-5zM1069 417h1v10h-1zM1074 424h5v5h-5zM1076 422h1v10h-1zM1094 344h5v4h-5zM1096 340h1v10h-1zM1108 345h5v1h-5zM1110 343h1v9h-1zM1128 339h5v1h-5zM1130 335h1v8h-1zM1142 337h5v4h-5zM1144 333h1v8h-1zM1162 333h5v17h-5zM1164 332h1v26h-1zM1169 350h5v5h-5zM1171 349h1v10h-1zM1182 353h5v16h-5zM1184 348h1v21h-1zM1196 351h5v3h-5zM1198 349h1v14h-1zM1203 353h5v35h-5zM1205 353h1v41h-1zM1209 387h5v18h-5zM1211 387h1v22h-1zM1216 404h5v4h-5zM1218 396h1v18h-1zM1223 407h5v7h-5zM1225 406h1v20h-1zM1230 412h5v8h-5zM1232 407h1v14h-1zM1243 410h5v16h-5zM1245 401h1v38h-1zM1250 425h5v25h-5zM1252 421h1v32h-1zM1257 448h5v64h-5zM1259 446h1v66h-1zM1270 502h5v10h-5zM1272 499h1v13h-1zM1277 512h5v22h-5zM1279 511h1v30h-1zM1284 533h5v8h-5zM1286 527h1v20h-1zM1311 506h5v11h-5zM1313 497h1v23h-1zM1324 452h5v3h-5zM1326 446h1v16h-1zM1331 454h5v3h-5zM1333 445h1v15h-1zM1351 414h5v6h-5zM1353 410h1v14h-1zM1378 359h5v6h-5zM1380 351h1v17h-1zM1405 362h5v28h-5zM1407 360h1v47h-1zM1412 388h5v1h-5zM1414 382h1v13h-1zM1426 388h5v6h-5zM1428 384h1v14h-1zM1432 394h5v47h-5zM1434 394h1v50h-1zM1439 441h5v11h-5zM1441 435h1v25h-1zM1446 451h5v23h-5zM1448 451h1v40h-1zM1453 473h5v19h-5zM1455 472h1v29h-1zM1466 481h5v9h-5zM1468 481h1v10h-1zM1507 466h5v10h-5zM1509 465h1v12h-1zM1513 475h5v6h-5zM1515 472h1v10h-1zM1534 445h5v23h-5zM1536 440h1v46h-1zM1561 445h5v15h-5zM1563 440h1v25h-1zM1567 460h5v3h-5zM1569 448h1v20h-1zM1594 447h5v13h-5zM1596 444h1v22h-1zM1615 373h5v2h-5zM1617 369h1v15h-1zM1635 374h5v30h-5zM1637 368h1v42h-1zM1642 403h5v2h-5zM1644 397h1v15h-1zM1655 378h5v38h-5zM1657 355h1v61h-1zM1662 415h5v67h-5zM1664 415h1v71h-1zM1676 476h5v6h-5zM1678 472h1v15h-1zM1682 481h5v27h-5zM1684 477h1v37h-1zM1716 453h5v9h-5zM1718 451h1v16h-1z" fill="#f23645"/></g><path d="M0 457.5H1748" stroke="#089981" stroke-width="1" stroke-dasharray="1 2" shape-rendering="crispEdges"/><g clip-path="url(#cd)"><g shape-rendering="crispEdges"><path d="M53 729h6v5h-6zM60 725h5v9h-5zM66 721h6v13h-6zM73 719h6v15h-6zM80 718h6v16h-6zM87 714h5v20h-5zM93 714h6v20h-6zM114 723h5v11h-5zM215 732h6v2h-6zM222 724h6v10h-6zM229 718h5v16h-5zM235 717h6v17h-6zM242 715h6v19h-6zM276 727h6v7h-6zM283 722h5v12h-5zM289 714h6v20h-6zM303 711h6v23h-6zM310 697h5v37h-5zM316 691h6v43h-6zM323 688h6v46h-6zM330 687h6v47h-6zM384 725h6v9h-6zM391 721h6v13h-6zM398 721h5v13h-5zM404 719h6v15h-6zM411 718h6v16h-6zM418 718h6v16h-6zM445 722h6v12h-6zM641 733h6v1h-6zM648 729h5v5h-5zM654 725h6v9h-6zM688 728h6v6h-6zM695 723h6v11h-6zM702 720h5v14h-5zM756 733h5v1h-5zM762 733h6v1h-6zM783 732h5v2h-5zM810 732h5v2h-5zM816 728h6v6h-6zM823 725h6v9h-6zM904 732h6v2h-6zM911 731h6v3h-6zM918 729h6v5h-6zM925 727h5v7h-5zM931 724h6v10h-6zM938 723h6v11h-6zM945 722h6v12h-6zM952 720h5v14h-5zM958 719h6v15h-6zM972 719h6v15h-6zM979 718h5v16h-5zM992 718h6v16h-6zM999 713h6v21h-6zM1006 711h5v23h-5zM1012 711h6v23h-6zM1046 714h6v20h-6zM1080 720h6v14h-6zM1087 713h5v21h-5zM1093 711h6v23h-6zM1100 710h6v24h-6zM1323 726h6v8h-6zM1330 721h6v13h-6zM1337 715h5v19h-5zM1343 708h6v26h-6zM1350 706h6v28h-6zM1357 704h6v30h-6zM1364 700h6v34h-6zM1371 696h5v38h-5zM1377 696h6v38h-6zM1526 732h6v2h-6zM1533 731h5v3h-5zM1539 730h6v4h-6zM1546 727h6v7h-6zM1553 725h6v9h-6zM1573 727h6v7h-6zM1580 726h6v8h-6zM1587 726h5v8h-5zM1600 722h6v12h-6zM1607 714h6v20h-6zM1614 710h6v24h-6zM1621 708h5v26h-5z" fill="#26a69a"/><path d="M100 721h6v13h-6zM107 727h6v7h-6zM249 719h6v15h-6zM256 720h5v14h-5zM262 727h6v7h-6zM269 727h6v7h-6zM296 714h6v20h-6zM337 691h5v43h-5zM343 702h6v32h-6zM350 709h6v25h-6zM357 713h6v21h-6zM364 723h5v11h-5zM370 727h6v7h-6zM377 729h6v5h-6zM425 721h5v13h-5zM431 723h6v11h-6zM438 723h6v11h-6zM452 732h5v2h-5zM661 727h6v7h-6zM668 731h6v3h-6zM708 723h6v11h-6zM769 733h6v1h-6zM776 733h6v1h-6zM830 725h6v9h-6zM837 731h5v3h-5zM843 733h6v1h-6zM965 720h6v14h-6zM985 719h6v15h-6zM1019 712h6v22h-6zM1026 713h6v21h-6zM1033 714h5v20h-5zM1039 715h6v19h-6zM1053 717h6v17h-6zM1060 718h5v16h-5zM1066 721h6v13h-6zM1073 724h6v10h-6zM1107 711h6v23h-6zM1114 713h6v21h-6zM1121 715h5v19h-5zM1127 718h6v16h-6zM1134 721h6v13h-6zM1141 724h6v10h-6zM1148 727h5v7h-5zM1154 729h6v5h-6zM1161 733h6v1h-6zM1384 698h6v36h-6zM1391 700h6v34h-6zM1398 704h5v30h-5zM1404 712h6v22h-6zM1411 718h6v16h-6zM1418 723h6v11h-6zM1425 727h5v7h-5zM1560 726h5v8h-5zM1566 727h6v7h-6zM1593 728h6v6h-6zM1627 709h6v25h-6zM1634 715h6v19h-6zM1641 720h6v14h-6zM1648 721h5v13h-5zM1654 727h6v7h-6z" fill="#b2dfdb"/><path d="M120 734h6v3h-6zM127 734h6v11h-6zM134 734h6v16h-6zM141 734h6v30h-6zM148 734h5v32h-5zM154 734h6v33h-6zM168 734h6v32h-6zM188 734h6v28h-6zM458 734h6v3h-6zM465 734h6v7h-6zM472 734h6v15h-6zM479 734h5v22h-5zM485 734h6v24h-6zM492 734h6v25h-6zM506 734h5v20h-5zM512 734h6v24h-6zM519 734h6v24h-6zM546 734h6v10h-6zM553 734h6v22h-6zM560 734h5v27h-5zM566 734h6v30h-6zM573 734h6v31h-6zM580 734h6v35h-6zM600 734h6v32h-6zM675 734h5v2h-5zM715 734h6v2h-6zM722 734h6v6h-6zM729 734h5v9h-5zM789 734h6v3h-6zM796 734h6v7h-6zM850 734h6v1h-6zM857 734h6v8h-6zM864 734h5v15h-5zM870 734h6v17h-6zM1168 734h6v4h-6zM1175 734h5v7h-5zM1181 734h6v11h-6zM1188 734h6v11h-6zM1195 734h6v11h-6zM1202 734h5v16h-5zM1208 734h6v21h-6zM1215 734h6v24h-6zM1222 734h6v26h-6zM1229 734h5v27h-5zM1249 734h6v27h-6zM1256 734h5v36h-5zM1262 734h6v38h-6zM1269 734h6v39h-6zM1276 734h6v40h-6zM1431 734h6v5h-6zM1438 734h6v13h-6zM1445 734h6v20h-6zM1452 734h5v27h-5zM1458 734h6v28h-6zM1465 734h6v29h-6zM1661 734h6v8h-6zM1668 734h6v16h-6zM1675 734h5v21h-5zM1681 734h6v27h-6z" fill="#ff5252"/><path d="M-1 734h6v37h-6zM6 734h5v33h-5zM12 734h6v25h-6zM19 734h6v21h-6zM26 734h6v17h-6zM33 734h5v13h-5zM39 734h6v8h-6zM46 734h6v2h-6zM161 734h6v28h-6zM175 734h5v25h-5zM181 734h6v22h-6zM195 734h6v25h-6zM202 734h5v15h-5zM208 734h6v6h-6zM499 734h6v19h-6zM526 734h6v16h-6zM533 734h5v10h-5zM539 734h6v8h-6zM587 734h5v35h-5zM593 734h6v30h-6zM607 734h6v25h-6zM614 734h5v18h-5zM620 734h6v15h-6zM627 734h6v9h-6zM634 734h6v3h-6zM681 734h6v1h-6zM735 734h6v9h-6zM742 734h6v7h-6zM749 734h6v4h-6zM803 734h6v3h-6zM877 734h6v13h-6zM884 734h6v9h-6zM891 734h6v6h-6zM898 734h5v2h-5zM1235 734h6v25h-6zM1242 734h6v25h-6zM1283 734h5v40h-5zM1289 734h6v35h-6zM1296 734h6v28h-6zM1303 734h6v20h-6zM1310 734h5v15h-5zM1316 734h6v2h-6zM1472 734h6v28h-6zM1479 734h5v25h-5zM1485 734h6v21h-6zM1492 734h6v17h-6zM1499 734h6v12h-6zM1506 734h5v10h-5zM1512 734h6v8h-6zM1519 734h6v5h-6zM1688 734h6v27h-6zM1695 734h6v23h-6zM1702 734h5v17h-5zM1708 734h6v12h-6zM1715 734h6v10h-6zM1722 734h6v7h-6z" fill="#ffcdd2"/><path d="M0 734.5H1749" stroke="#9598a1" stroke-width="1" stroke-dasharray="5 6" stroke-dashoffset="2.5" opacity="0.8"/></g><polyline points="-4.5,811.9 2.5,817.2 9.5,820.7 15.5,818.8 22.5,819.8 29.5,819.3 36.5,819.4 42.5,815.6 49.5,809.8 56.5,802.1 63.5,795.8 69.5,789.5 76.5,783.1 83.5,778.2 90.5,769.8 96.5,764.7 103.5,768.6 110.5,773.0 117.5,766.4 123.5,779.8 130.5,790.6 137.5,798.3 144.5,820.2 151.5,830.1 157.5,838.8 164.5,840.5 171.5,851.9 178.5,851.0 184.5,853.5 191.5,866.5 198.5,869.2 205.5,863.1 211.5,855.0 218.5,847.2 225.5,836.9 232.5,827.2 238.5,821.2 245.5,815.1 252.5,814.6 259.5,813.1 265.5,817.8 272.5,816.3 279.5,814.1 286.5,806.6 292.5,792.9 299.5,788.6 306.5,779.3 313.5,756.5 319.5,739.7 326.5,725.0 333.5,712.9 340.5,705.1 346.5,709.0 353.5,710.0 360.5,707.9 367.5,715.7 373.5,718.3 380.5,718.2 387.5,712.3 394.5,705.0 401.5,701.4 407.5,695.7 414.5,691.4 421.5,687.4 428.5,687.2 434.5,686.2 441.5,683.4 448.5,679.2 455.5,688.6 461.5,692.9 468.5,699.1 475.5,709.8 482.5,722.5 488.5,730.7 495.5,736.8 502.5,735.3 509.5,741.9 515.5,750.7 522.5,756.9 529.5,752.3 536.5,749.4 542.5,748.6 549.5,752.4 556.5,769.6 563.5,780.9 569.5,791.8 576.5,799.7 583.5,813.2 590.5,820.9 596.5,823.9 603.5,833.2 610.5,832.2 617.5,829.8 623.5,829.6 630.5,825.8 637.5,820.7 644.5,818.2 651.5,812.6 657.5,806.5 664.5,805.7 671.5,809.4 678.5,813.6 684.5,812.9 691.5,805.7 698.5,797.9 705.5,791.4 711.5,791.1 718.5,803.1 725.5,809.2 732.5,814.1 738.5,815.9 745.5,815.7 752.5,812.7 759.5,809.3 765.5,808.1 772.5,808.7 779.5,809.2 786.5,807.3 792.5,810.8 799.5,817.0 806.5,813.3 813.5,808.6 819.5,803.8 826.5,798.4 833.5,796.4 840.5,800.9 846.5,802.9 853.5,804.4 860.5,813.4 867.5,823.6 873.5,829.2 880.5,828.2 887.5,826.5 894.5,824.2 901.5,821.1 907.5,817.9 914.5,815.8 921.5,812.6 928.5,809.2 934.5,803.9 941.5,799.9 948.5,795.7 955.5,790.2 961.5,785.7 968.5,783.3 975.5,778.1 982.5,773.7 988.5,770.6 995.5,766.0 1002.5,755.7 1009.5,748.1 1015.5,741.7 1022.5,736.9 1029.5,732.8 1036.5,729.1 1042.5,725.3 1049.5,719.8 1056.5,717.6 1063.5,715.4 1069.5,715.2 1076.5,715.9 1083.5,707.9 1090.5,695.9 1096.5,687.4 1103.5,680.8 1110.5,676.3 1117.5,673.2 1124.5,670.4 1130.5,669.2 1137.5,668.5 1144.5,669.4 1151.5,670.5 1157.5,671.0 1164.5,675.3 1171.5,680.0 1178.5,684.0 1184.5,690.5 1191.5,693.2 1198.5,696.0 1205.5,704.7 1211.5,714.9 1218.5,723.7 1225.5,731.6 1232.5,739.0 1238.5,743.0 1245.5,748.8 1252.5,757.4 1259.5,774.9 1265.5,786.3 1272.5,796.6 1279.5,807.7 1286.5,816.8 1292.5,820.8 1299.5,820.0 1306.5,817.3 1313.5,816.2 1319.5,803.0 1326.5,792.3 1333.5,783.6 1340.5,773.2 1346.5,760.1 1353.5,750.5 1360.5,741.1 1367.5,728.9 1374.5,715.1 1380.5,705.5 1387.5,698.1 1394.5,692.5 1401.5,688.6 1407.5,690.9 1414.5,693.1 1421.5,695.0 1428.5,698.1 1434.5,709.2 1441.5,720.1 1448.5,732.7 1455.5,745.8 1461.5,754.1 1468.5,761.9 1475.5,767.4 1482.5,770.1 1488.5,771.9 1495.5,771.7 1502.5,769.6 1509.5,769.1 1515.5,769.2 1522.5,767.4 1529.5,760.8 1536.5,759.3 1542.5,756.9 1549.5,752.8 1556.5,748.5 1563.5,747.3 1569.5,746.8 1576.5,744.9 1583.5,742.0 1590.5,739.5 1596.5,739.7 1603.5,731.7 1610.5,718.3 1617.5,708.1 1624.5,700.4 1630.5,694.6 1637.5,695.9 1644.5,697.5 1651.5,694.6 1657.5,699.3 1664.5,715.2 1671.5,726.6 1678.5,736.7 1684.5,749.4 1691.5,755.3 1698.5,757.3 1705.5,755.7 1711.5,753.5 1718.5,753.1 1725.5,751.8" fill="none" stroke="#2962ff" stroke-width="1.15" stroke-linejoin="round" stroke-linecap="round" clip-path="url(#cd)"/><polyline points="-4.5,771.9 2.5,781.0 9.5,788.9 15.5,794.9 22.5,799.9 29.5,803.8 36.5,806.9 42.5,808.6 49.5,808.9 56.5,807.5 63.5,805.2 69.5,802.0 76.5,798.3 83.5,794.2 90.5,789.4 96.5,784.4 103.5,781.3 110.5,779.6 117.5,777.0 123.5,777.5 130.5,780.1 137.5,783.8 144.5,791.1 151.5,798.9 157.5,806.9 164.5,813.6 171.5,821.2 178.5,827.2 184.5,832.5 191.5,839.3 198.5,845.2 205.5,848.8 211.5,850.0 218.5,849.5 225.5,847.0 232.5,843.0 238.5,838.7 245.5,833.9 252.5,830.1 259.5,826.7 265.5,824.9 272.5,823.2 279.5,821.4 286.5,818.4 292.5,813.3 299.5,808.4 306.5,802.6 313.5,793.4 319.5,782.6 326.5,771.1 333.5,759.5 340.5,748.6 346.5,740.7 353.5,734.6 360.5,729.2 367.5,726.5 373.5,724.9 380.5,723.5 387.5,721.3 394.5,718.0 401.5,714.7 407.5,710.9 414.5,707.0 421.5,703.1 428.5,699.9 434.5,697.2 441.5,694.4 448.5,691.4 455.5,690.8 461.5,691.2 468.5,692.8 475.5,696.2 482.5,701.5 488.5,707.3 495.5,713.2 502.5,717.6 509.5,722.5 515.5,728.1 522.5,733.9 529.5,737.6 536.5,739.9 542.5,741.7 549.5,743.8 556.5,749.0 563.5,755.4 569.5,762.6 576.5,770.1 583.5,778.7 590.5,787.1 596.5,794.5 603.5,802.2 610.5,808.2 617.5,812.5 623.5,815.9 630.5,817.9 637.5,818.5 644.5,818.4 651.5,817.2 657.5,815.1 664.5,813.2 671.5,812.5 678.5,812.7 684.5,812.7 691.5,811.3 698.5,808.6 705.5,805.2 711.5,802.4 718.5,802.5 725.5,803.9 732.5,805.9 738.5,807.9 745.5,809.5 752.5,810.1 759.5,809.9 765.5,809.6 772.5,809.4 779.5,809.4 786.5,808.9 792.5,809.3 799.5,810.9 806.5,811.3 813.5,810.8 819.5,809.4 826.5,807.2 833.5,805.0 840.5,804.2 846.5,804.0 853.5,804.1 860.5,805.9 867.5,809.4 873.5,813.4 880.5,816.4 887.5,818.4 894.5,819.5 901.5,819.9 907.5,819.5 914.5,818.7 921.5,817.5 928.5,815.8 934.5,813.5 941.5,810.7 948.5,807.7 955.5,804.2 961.5,800.5 968.5,797.1 975.5,793.3 982.5,789.4 988.5,785.6 995.5,781.7 1002.5,776.5 1009.5,770.8 1015.5,765.0 1022.5,759.4 1029.5,754.1 1036.5,749.1 1042.5,744.3 1049.5,739.4 1056.5,735.1 1063.5,731.1 1069.5,727.9 1076.5,725.5 1083.5,722.0 1090.5,716.8 1096.5,710.9 1103.5,704.9 1110.5,699.2 1117.5,694.0 1124.5,689.3 1130.5,685.2 1137.5,681.9 1144.5,679.4 1151.5,677.6 1157.5,676.3 1164.5,676.1 1171.5,676.9 1178.5,678.3 1184.5,680.7 1191.5,683.2 1198.5,685.8 1205.5,689.6 1211.5,694.6 1218.5,700.5 1225.5,706.7 1232.5,713.2 1238.5,719.1 1245.5,725.1 1252.5,731.5 1259.5,740.2 1265.5,749.4 1272.5,758.9 1279.5,768.6 1286.5,778.3 1292.5,786.8 1299.5,793.4 1306.5,798.2 1313.5,801.8 1319.5,802.0 1326.5,800.1 1333.5,796.8 1340.5,792.1 1346.5,785.7 1353.5,778.6 1360.5,771.1 1367.5,762.7 1374.5,753.2 1380.5,743.6 1387.5,734.5 1394.5,726.1 1401.5,718.6 1407.5,713.1 1414.5,709.1 1421.5,706.3 1428.5,704.6 1434.5,705.5 1441.5,708.4 1448.5,713.3 1455.5,719.8 1461.5,726.6 1468.5,733.7 1475.5,740.4 1482.5,746.4 1488.5,751.5 1495.5,755.5 1502.5,758.3 1509.5,760.5 1515.5,762.2 1522.5,763.3 1529.5,762.8 1536.5,762.1 1542.5,761.0 1549.5,759.4 1556.5,757.2 1563.5,755.2 1569.5,753.5 1576.5,751.8 1583.5,749.9 1590.5,747.8 1596.5,746.2 1603.5,743.3 1610.5,738.3 1617.5,732.3 1624.5,725.9 1630.5,719.6 1637.5,714.9 1644.5,711.4 1651.5,708.0 1657.5,706.3 1664.5,708.1 1671.5,711.8 1678.5,716.8 1684.5,723.3 1691.5,729.7 1698.5,735.2 1705.5,739.3 1711.5,742.2 1718.5,744.3 1725.5,745.8" fill="none" stroke="#ff6d00" stroke-width="1.15" stroke-linejoin="round" stroke-linecap="round" clip-path="url(#cd)"/></g><rect x="0" y="650" width="1812" height="1" fill="#e0e3eb"/><rect x="0" y="684" width="1812" height="1" fill="#e0e3eb"/><g clip-path="url(#ca)"><text x="1758.0" y="11" font-size="12" fill="#131722" textLength="29.2" lengthAdjust="spacingAndGlyphs">19.00</text><text x="1758.0" y="53" font-size="12" fill="#131722" textLength="29.2" lengthAdjust="spacingAndGlyphs">18.50</text><text x="1758.0" y="95" font-size="12" fill="#131722" textLength="29.2" lengthAdjust="spacingAndGlyphs">18.00</text><text x="1758.0" y="136" font-size="12" fill="#131722" textLength="29.2" lengthAdjust="spacingAndGlyphs">17.50</text><text x="1758.0" y="178" font-size="12" fill="#131722" textLength="29.2" lengthAdjust="spacingAndGlyphs">17.00</text><text x="1758.0" y="220" font-size="12" fill="#131722" textLength="29.2" lengthAdjust="spacingAndGlyphs">16.50</text><text x="1758.0" y="262" font-size="12" fill="#131722" textLength="29.2" lengthAdjust="spacingAndGlyphs">16.00</text><text x="1758.0" y="304" font-size="12" fill="#131722" textLength="29.2" lengthAdjust="spacingAndGlyphs">15.50</text><text x="1758.0" y="346" font-size="12" fill="#131722" textLength="29.2" lengthAdjust="spacingAndGlyphs">15.00</text><text x="1758.0" y="387" font-size="12" fill="#131722" textLength="29.2" lengthAdjust="spacingAndGlyphs">14.50</text><text x="1758.0" y="429" font-size="12" fill="#131722" textLength="29.2" lengthAdjust="spacingAndGlyphs">14.00</text><text x="1758.0" y="471" font-size="12" fill="#131722" textLength="29.2" lengthAdjust="spacingAndGlyphs">13.50</text><text x="1758.0" y="513" font-size="12" fill="#131722" textLength="29.2" lengthAdjust="spacingAndGlyphs">13.00</text><text x="1758.0" y="555" font-size="12" fill="#131722" textLength="29.2" lengthAdjust="spacingAndGlyphs">12.50</text><text x="1758.0" y="596" font-size="12" fill="#131722" textLength="29.2" lengthAdjust="spacingAndGlyphs">12.00</text><text x="1758.0" y="638" font-size="12" fill="#131722" textLength="29.2" lengthAdjust="spacingAndGlyphs">11.50</text></g><rect x="1750" y="271.5" width="43" height="17" rx="2" fill="#801922"/><text x="1758.0" y="284" font-size="12" fill="#fff" textLength="29.2" lengthAdjust="spacingAndGlyphs" stroke="#fff" stroke-width="0.35">15.75</text><rect x="1750" y="316.0" width="43" height="17" rx="2" fill="#801922"/><text x="1758.0" y="329" font-size="12" fill="#fff" textLength="29.2" lengthAdjust="spacingAndGlyphs" stroke="#fff" stroke-width="0.35">15.10</text><rect x="1750" y="333.0" width="43" height="17" rx="2" fill="#673ab7"/><text x="1758.0" y="346" font-size="12" fill="#fff" textLength="29.2" lengthAdjust="spacingAndGlyphs" stroke="#fff" stroke-width="0.35">15.00</text><rect x="1750" y="381.0" width="43" height="17" rx="2" fill="#801922"/><text x="1758.0" y="394" font-size="12" fill="#fff" textLength="29.2" lengthAdjust="spacingAndGlyphs" stroke="#fff" stroke-width="0.35">14.21</text><rect x="1750" y="398.0" width="43" height="17" rx="2" fill="#2962ff"/><text x="1758.0" y="411" font-size="12" fill="#fff" textLength="29.2" lengthAdjust="spacingAndGlyphs" stroke="#fff" stroke-width="0.35">14.00</text><rect x="1750" y="415.0" width="43" height="17" rx="2" fill="#4caf50"/><text x="1758.0" y="428" font-size="12" fill="#fff" textLength="29.2" lengthAdjust="spacingAndGlyphs" stroke="#fff" stroke-width="0.35">13.78</text><rect x="1750" y="432.0" width="43" height="17" rx="2" fill="#f23645"/><text x="1758.0" y="445" font-size="12" fill="#fff" textLength="29.2" lengthAdjust="spacingAndGlyphs" stroke="#fff" stroke-width="0.35">13.69</text><rect x="1750" y="449.0" width="43" height="17" rx="2" fill="#089981"/><text x="1758.0" y="462" font-size="12" fill="#fff" textLength="29.2" lengthAdjust="spacingAndGlyphs" stroke="#fff" stroke-width="0.35">13.61</text><rect x="1750" y="466.0" width="43" height="17" rx="2" fill="#ff9800"/><text x="1758.0" y="479" font-size="12" fill="#131722" textLength="29.2" lengthAdjust="spacingAndGlyphs">13.50</text><rect x="1750" y="536.0" width="43" height="17" rx="2" fill="#ff9800"/><text x="1758.0" y="549" font-size="12" fill="#131722" textLength="29.2" lengthAdjust="spacingAndGlyphs">12.57</text><rect x="1750" y="594.0" width="43" height="17" rx="2" fill="#ff9800"/><text x="1758.0" y="607" font-size="12" fill="#131722" textLength="29.2" lengthAdjust="spacingAndGlyphs">11.88</text><g clip-path="url(#cb)"><text x="1758.2" y="701" font-size="12" fill="#131722" textLength="23.5" lengthAdjust="spacingAndGlyphs">0.20</text><text x="1758.2" y="738" font-size="12" fill="#131722" textLength="23.5" lengthAdjust="spacingAndGlyphs">0.00</text><text x="1758.2" y="775" font-size="12" fill="#131722" textLength="29.5" lengthAdjust="spacingAndGlyphs">−0.20</text><text x="1758.2" y="812" font-size="12" fill="#131722" textLength="29.5" lengthAdjust="spacingAndGlyphs">−0.40</text></g><rect x="1750" y="732.0" width="43" height="17" rx="2" fill="#ffcdd2"/><text x="1758.0" y="745" font-size="12" fill="#131722" textLength="29.5" lengthAdjust="spacingAndGlyphs">−0.03</text><rect x="1750" y="749.0" width="43" height="17" rx="2" fill="#ff6d00"/><text x="1758.0" y="762" font-size="12" fill="#fff" textLength="29.5" lengthAdjust="spacingAndGlyphs" stroke="#fff" stroke-width="0.35">−0.06</text><rect x="1750" y="766.0" width="43" height="17" rx="2" fill="#2962ff"/><text x="1758.0" y="779" font-size="12" fill="#fff" textLength="29.5" lengthAdjust="spacingAndGlyphs" stroke="#fff" stroke-width="0.35">−0.10</text><g clip-path="url(#ct)"><text x="42.5" y="855" font-size="12" fill="#131722" text-anchor="middle" textLength="20.6" lengthAdjust="spacingAndGlyphs" stroke="#131722" stroke-width="0.45">Nov</text><text x="123.5" y="855" font-size="12" fill="#131722" text-anchor="middle" textLength="6.3" lengthAdjust="spacingAndGlyphs">3</text><text x="205.5" y="855" font-size="12" fill="#131722" text-anchor="middle" textLength="6.3" lengthAdjust="spacingAndGlyphs">5</text><text x="286.5" y="855" font-size="12" fill="#131722" text-anchor="middle" textLength="6.3" lengthAdjust="spacingAndGlyphs">7</text><text x="367.5" y="855" font-size="12" fill="#131722" text-anchor="middle" textLength="6.3" lengthAdjust="spacingAndGlyphs">9</text><text x="448.5" y="855" font-size="12" fill="#131722" text-anchor="middle" textLength="12.6" lengthAdjust="spacingAndGlyphs">11</text><text x="529.5" y="855" font-size="12" fill="#131722" text-anchor="middle" textLength="12.6" lengthAdjust="spacingAndGlyphs">13</text><text x="610.5" y="855" font-size="12" fill="#131722" text-anchor="middle" textLength="12.6" lengthAdjust="spacingAndGlyphs">15</text><text x="691.5" y="855" font-size="12" fill="#131722" text-anchor="middle" textLength="12.6" lengthAdjust="spacingAndGlyphs">17</text><text x="772.5" y="855" font-size="12" fill="#131722" text-anchor="middle" textLength="12.6" lengthAdjust="spacingAndGlyphs">19</text><text x="853.5" y="855" font-size="12" fill="#131722" text-anchor="middle" textLength="12.6" lengthAdjust="spacingAndGlyphs">21</text><text x="934.5" y="855" font-size="12" fill="#131722" text-anchor="middle" textLength="12.6" lengthAdjust="spacingAndGlyphs">23</text><text x="1015.5" y="855" font-size="12" fill="#131722" text-anchor="middle" textLength="12.6" lengthAdjust="spacingAndGlyphs">25</text><text x="1096.5" y="855" font-size="12" fill="#131722" text-anchor="middle" textLength="12.6" lengthAdjust="spacingAndGlyphs">27</text><text x="1178.5" y="855" font-size="12" fill="#131722" text-anchor="middle" textLength="12.6" lengthAdjust="spacingAndGlyphs">29</text><text x="1259.5" y="855" font-size="12" fill="#131722" text-anchor="middle" textLength="20.6" lengthAdjust="spacingAndGlyphs" stroke="#131722" stroke-width="0.45">Dec</text><text x="1340.5" y="855" font-size="12" fill="#131722" text-anchor="middle" textLength="6.3" lengthAdjust="spacingAndGlyphs">3</text><text x="1421.5" y="855" font-size="12" fill="#131722" text-anchor="middle" textLength="6.3" lengthAdjust="spacingAndGlyphs">5</text><text x="1502.5" y="855" font-size="12" fill="#131722" text-anchor="middle" textLength="6.3" lengthAdjust="spacingAndGlyphs">7</text><text x="1583.5" y="855" font-size="12" fill="#131722" text-anchor="middle" textLength="6.3" lengthAdjust="spacingAndGlyphs">9</text><text x="1664.5" y="855" font-size="12" fill="#131722" text-anchor="middle" textLength="12.6" lengthAdjust="spacingAndGlyphs">11</text><text x="1745.5" y="855" font-size="12" fill="#131722" text-anchor="middle" textLength="12.6" lengthAdjust="spacingAndGlyphs">13</text></g><rect x="2" y="0" width="151" height="46" fill="#fff" opacity="0.5"/><rect x="2" y="46" width="158" height="48" fill="#fff" opacity="0.5"/><text y="15" font-size="13" fill="#131722" xml:space="preserve"><tspan x="7.6" textLength="26.8" lengthAdjust="spacingAndGlyphs">EMA </tspan><tspan x="34.4" textLength="17.4" lengthAdjust="spacingAndGlyphs">20 </tspan><tspan x="51.8" textLength="28.6" lengthAdjust="spacingAndGlyphs">close</tspan></text><circle cx="98" cy="10" r="8.8" fill="#7c4dff" opacity="0.11"/><g transform="translate(98,10)" fill="none" stroke="#5b21ff" stroke-width="1.4" stroke-linecap="butt"><path d="M-4.9 -1.2A5 5 0 0 1 4.3 -2.6"/><path d="M4.9 1.2A5 5 0 0 1 -4.3 2.6"/></g><g transform="translate(98,10)" fill="#5b21ff"><path d="M6.6 -1.3L2.9 -1.1L5.0 -4.5z"/><path d="M-6.6 1.3L-2.9 1.1L-5.0 4.5z"/></g><text x="115.4" y="15" font-size="13" fill="#f23645" textLength="31" lengthAdjust="spacingAndGlyphs">13.69</text><text y="39" font-size="13" fill="#131722" xml:space="preserve"><tspan x="7.6" textLength="26.8" lengthAdjust="spacingAndGlyphs">EMA </tspan><tspan x="34.4" textLength="17.4" lengthAdjust="spacingAndGlyphs">50 </tspan><tspan x="51.8" textLength="28.6" lengthAdjust="spacingAndGlyphs">close</tspan></text><circle cx="98" cy="34.2" r="8.8" fill="#7c4dff" opacity="0.11"/><g transform="translate(98,34.2)" fill="none" stroke="#5b21ff" stroke-width="1.4" stroke-linecap="butt"><path d="M-4.9 -1.2A5 5 0 0 1 4.3 -2.6"/><path d="M4.9 1.2A5 5 0 0 1 -4.3 2.6"/></g><g transform="translate(98,34.2)" fill="#5b21ff"><path d="M6.6 -1.3L2.9 -1.1L5.0 -4.5z"/><path d="M-6.6 1.3L-2.9 1.1L-5.0 4.5z"/></g><text x="115.4" y="39" font-size="13" fill="#4caf50" textLength="31" lengthAdjust="spacingAndGlyphs">13.78</text><text y="63" font-size="13" fill="#131722" xml:space="preserve"><tspan x="7.6" textLength="26.8" lengthAdjust="spacingAndGlyphs">EMA </tspan><tspan x="34.4" textLength="24.4" lengthAdjust="spacingAndGlyphs">100 </tspan><tspan x="58.8" textLength="28.6" lengthAdjust="spacingAndGlyphs">close</tspan></text><circle cx="105.2" cy="58.2" r="8.8" fill="#7c4dff" opacity="0.11"/><g transform="translate(105.2,58.2)" fill="none" stroke="#5b21ff" stroke-width="1.4" stroke-linecap="butt"><path d="M-4.9 -1.2A5 5 0 0 1 4.3 -2.6"/><path d="M4.9 1.2A5 5 0 0 1 -4.3 2.6"/></g><g transform="translate(105.2,58.2)" fill="#5b21ff"><path d="M6.6 -1.3L2.9 -1.1L5.0 -4.5z"/><path d="M-6.6 1.3L-2.9 1.1L-5.0 4.5z"/></g><text x="122.9" y="63" font-size="13" fill="#2962ff" textLength="31" lengthAdjust="spacingAndGlyphs">14.00</text><text y="87" font-size="13" fill="#131722" xml:space="preserve"><tspan x="7.6" textLength="26.8" lengthAdjust="spacingAndGlyphs">EMA </tspan><tspan x="34.4" textLength="24.4" lengthAdjust="spacingAndGlyphs">200 </tspan><tspan x="58.8" textLength="28.6" lengthAdjust="spacingAndGlyphs">close</tspan></text><circle cx="105.2" cy="82.4" r="8.8" fill="#7c4dff" opacity="0.11"/><g transform="translate(105.2,82.4)" fill="none" stroke="#5b21ff" stroke-width="1.4" stroke-linecap="butt"><path d="M-4.9 -1.2A5 5 0 0 1 4.3 -2.6"/><path d="M4.9 1.2A5 5 0 0 1 -4.3 2.6"/></g><g transform="translate(105.2,82.4)" fill="#5b21ff"><path d="M6.6 -1.3L2.9 -1.1L5.0 -4.5z"/><path d="M-6.6 1.3L-2.9 1.1L-5.0 4.5z"/></g><text x="122.9" y="87" font-size="13" fill="#673ab7" textLength="31" lengthAdjust="spacingAndGlyphs">15.00</text><rect x="6.5" y="97.5" width="28" height="20" rx="4" fill="#fff" fill-opacity="0.85" stroke="#d6d9e0" stroke-width="1"/><path d="M16.3 110.2L20.5 106.2L24.7 110.2" fill="none" stroke="#131722" stroke-width="1.4"/><text x="7" y="672" font-size="13" fill="#131722" textLength="57" lengthAdjust="spacingAndGlyphs">Vol · AVAX</text><text x="72.7" y="672" font-size="13" fill="#26a69a" textLength="47.5" lengthAdjust="spacingAndGlyphs">195.99 K</text><text x="7" y="706" font-size="13" fill="#131722" textLength="100.5" lengthAdjust="spacingAndGlyphs">MACD 12 26 close</text><circle cx="124.7" cy="700.8" r="8.8" fill="#7c4dff" opacity="0.11"/><g transform="translate(124.7,700.8)" fill="none" stroke="#5b21ff" stroke-width="1.4" stroke-linecap="butt"><path d="M-4.9 -1.2A5 5 0 0 1 4.3 -2.6"/><path d="M4.9 1.2A5 5 0 0 1 -4.3 2.6"/></g><g transform="translate(124.7,700.8)" fill="#5b21ff"><path d="M6.6 -1.3L2.9 -1.1L5.0 -4.5z"/><path d="M-6.6 1.3L-2.9 1.1L-5.0 4.5z"/></g><text x="142.5" y="706" font-size="13" fill="#ffcdd2" textLength="30.5" lengthAdjust="spacingAndGlyphs">−0.03</text><text x="180" y="706" font-size="13" fill="#2962ff" textLength="31.5" lengthAdjust="spacingAndGlyphs">−0.10</text><text x="218.7" y="706" font-size="13" fill="#ff6d00" textLength="30.5" lengthAdjust="spacingAndGlyphs">−0.06</text><g transform="translate(1725.5,637.4)"><circle r="9.6" fill="#fff" stroke="#9c27b0" stroke-width="1.3"/><path d="M2.0 -5.3L-3.7 0.8L-0.2 0.3L-2.0 5.3L3.7 -0.8L0.2 -0.3z" fill="#9c27b0"/></g><rect x="1753.5" y="-4" width="55" height="27" rx="4" fill="#fff" stroke="#e0e3eb" stroke-width="1"/><text x="1757.4" y="15" font-size="12" fill="#131722" textLength="27.3" lengthAdjust="spacingAndGlyphs">USDT</text><path d="M1799.2 10.4L1801.6 12.7L1804 10.4" fill="none" stroke="#131722" stroke-width="1.4"/><g transform="translate(1781.4,851.4)" fill="none" stroke="#131722" stroke-width="1.15"><path d="M-7.3 0L-3.8 -6L3.8 -6L7.3 0L3.8 6L-3.8 6z"/><circle r="2.3"/></g><path d="M8 806.2H42L35.6 824.8H14V816H8z" fill="#fff"/><g fill="#101014" stroke="#fff" stroke-width="4" paint-order="stroke" stroke-linejoin="round"><path d="M10 808.2H22V822.8H16V814H10z"/><circle cx="27.1" cy="811.1" r="2.9"/><path d="M33.4 808.2H40L33.8 822.8H27.2z"/></g></svg></body></html>
